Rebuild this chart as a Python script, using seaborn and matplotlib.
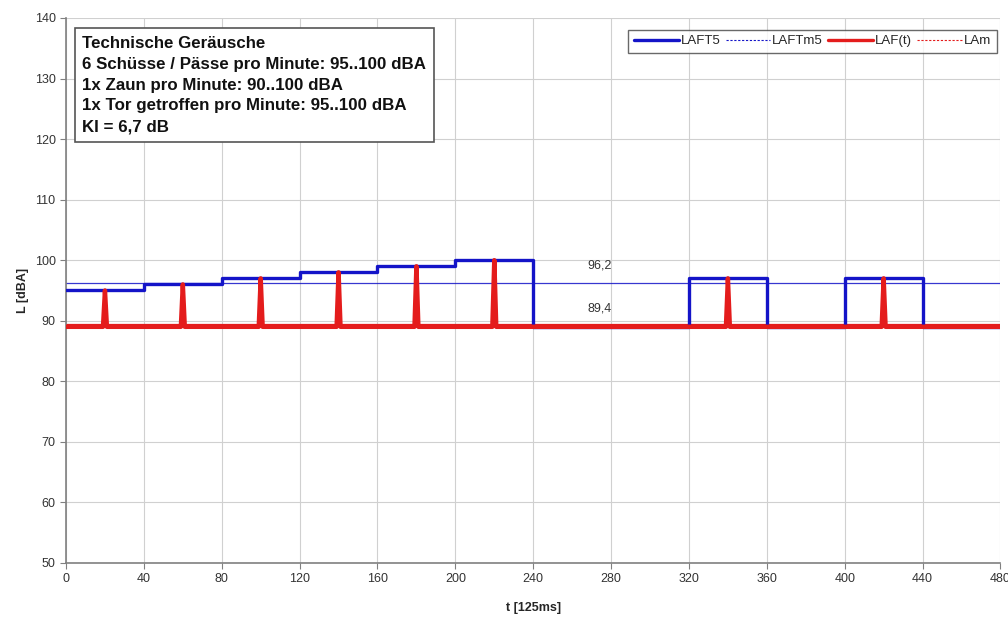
import numpy as np
import pandas as pd
import matplotlib
matplotlib.use("Agg")
import matplotlib.pyplot as plt
from matplotlib.lines import Line2D
import seaborn as sns

# Pegelverlauf in Blöcken zu je 40 Takten (125 ms)
block_len = 40
laft5_blocks = [95, 96, 97, 98, 99, 100, 89, 89, 97, 89, 97, 89]

# Einzelereignisse im LAF(t)-Verlauf
laf_base = 89
event_times = [20, 60, 100, 140, 180, 220, 340, 420]
event_peaks = [95, 96, 97, 98, 99, 100, 97, 97]

# Mittelungspegel
laftm5 = 96.2
lam = 89.4

x_ticks = list(range(0, 481, 40))
y_ticks = list(range(50, 141, 10))

info_lines = [
    "Technische Geräusche",
    "6 Schüsse / Pässe pro Minute: 95..100 dBA",
    "1x Zaun pro Minute: 90..100 dBA",
    "1x Tor getroffen pro Minute: 95..100 dBA",
    "KI = 6,7 dB",
]

# Zeitreihen aufbauen
t = np.arange(0, 481)
laft5 = np.array([laft5_blocks[min(i // block_len, len(laft5_blocks) - 1)] for i in t], dtype=float)
laf = np.full(t.shape, float(laf_base))
for et, pk in zip(event_times, event_peaks):
    laf[et] = pk

df = pd.DataFrame({"t": t, "LAFT5": laft5, "LAF(t)": laf})

sns.set_theme(style="white")
plt.rcParams["font.family"] = ["Liberation Sans", "DejaVu Sans"]

blue = "#1414C8"
red = "#E41C1C"
narrow = ["Liberation Sans Narrow", "Liberation Sans", "DejaVu Sans"]

fig = plt.figure(figsize=(10.08, 6.19), dpi=100)
ax = fig.add_axes([0.0655, 0.0905, 0.927, 0.8805])

ax.set_xlim(0, 480)
ax.set_ylim(50, 140)
ax.set_xticks(x_ticks)
ax.set_yticks(y_ticks)
ax.grid(True, color="#d0d0d0", linewidth=0.8)
ax.set_axisbelow(True)

ax.axhline(laftm5, color=blue, linewidth=0.9, alpha=0.85, zorder=2)
ax.axhline(lam, color=red, linewidth=0.9, zorder=2)

sns.lineplot(data=df, x="t", y="LAFT5", ax=ax, color=blue, linewidth=2.4,
             drawstyle="steps-post", zorder=3)
sns.lineplot(data=df, x="t", y="LAF(t)", ax=ax, color=red, linewidth=3.2, zorder=4)

ax.text(274, laftm5 + 2.4, "96,2", fontsize=9, color="#333333", ha="center")
ax.text(274, lam + 2.1, "89,4", fontsize=9, color="#333333", ha="center")

for side in ["top", "right"]:
    ax.spines[side].set_visible(False)
for side in ["left", "bottom"]:
    ax.spines[side].set_color("#808080")
    ax.spines[side].set_linewidth(1.2)

ax.tick_params(axis="both", which="both", direction="out", length=4, width=0.8,
               color="#808080", labelsize=9, labelcolor="#333333",
               left=True, bottom=True)
for lbl in ax.get_xticklabels():
    lbl.set_family(narrow)

ax.set_xlabel("t [125ms]", fontsize=9, fontweight="bold", family=narrow, labelpad=12)
ax.set_ylabel("L [dBA]", fontsize=9, fontweight="bold")

ax.text(8.3, 137.0, "\n".join(info_lines), fontsize=12.2, fontweight="bold",
        va="top", ha="left", linespacing=1.48, color="#111111",
        bbox=dict(boxstyle="square,pad=0.45", facecolor="white",
                  edgecolor="#555555", linewidth=1.2))

handles = [
    Line2D([], [], color=blue, linewidth=2.4),
    Line2D([], [], color=blue, linewidth=0.8, linestyle=(0, (2, 1.5))),
    Line2D([], [], color=red, linewidth=2.4),
    Line2D([], [], color=red, linewidth=0.8, linestyle=(0, (2, 1.5))),
]
labels = ["LAFT5", "LAFTm5", "LAF(t)", "LAm"]
leg = ax.legend(handles, labels, loc="upper right", bbox_to_anchor=(0.999, 0.983),
                ncol=4, fontsize=9.5, frameon=True, fancybox=False,
                handlelength=3.4, handletextpad=0.15, columnspacing=0.4,
                borderpad=0.4, borderaxespad=0.2)
leg.get_frame().set_edgecolor("#444444")
leg.get_frame().set_linewidth(1.0)

fig.savefig("out.png", dpi=100)
